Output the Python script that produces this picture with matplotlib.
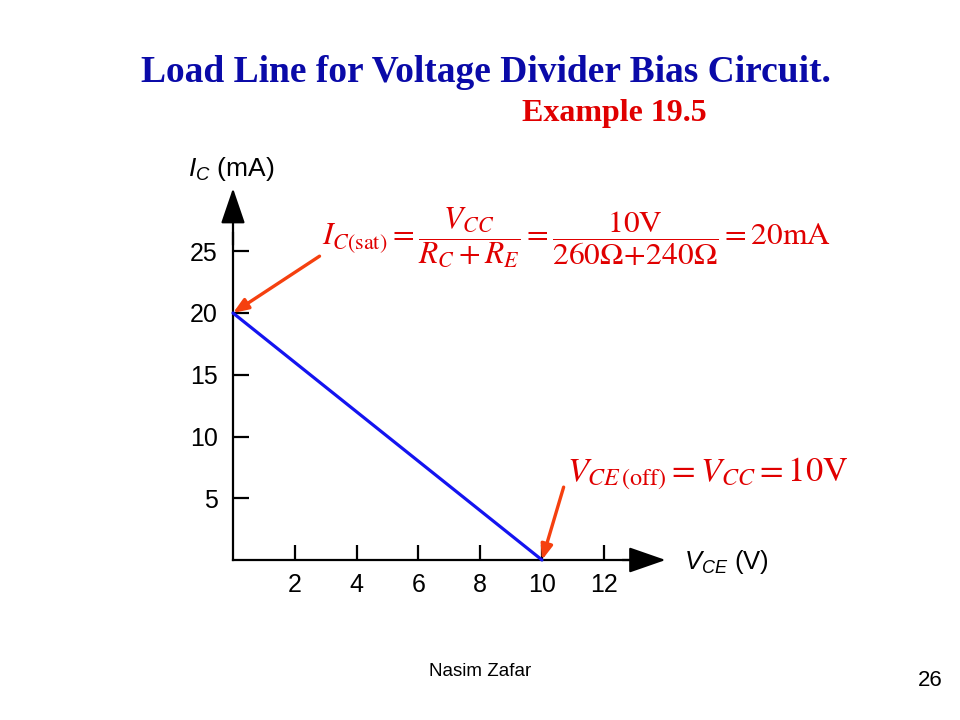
import matplotlib
matplotlib.use("Agg")
import matplotlib.pyplot as plt

plt.rcParams["font.family"] = ["Liberation Sans", "DejaVu Sans"]
plt.rcParams["mathtext.fontset"] = "custom"
plt.rcParams["mathtext.rm"] = "Liberation Sans"
plt.rcParams["mathtext.it"] = "Liberation Sans:italic"
plt.rcParams["mathtext.bf"] = "Liberation Sans:bold"

# ── Data ─────────────────────────────────────────────────────────────────────
vce = [0, 10]          # V
ic = [20, 0]           # mA
xticks = [2, 4, 6, 8, 10, 12]
yticks = [5, 10, 15, 20, 25]

BLUE = "#1414F0"
ORANGE = "#F5400F"
RED = "#E00000"
NAVY = "#0A0AA8"

fig = plt.figure(figsize=(9.6, 7.2), dpi=100)
fig.patch.set_facecolor("white")

W, H = 960, 720
ax = fig.add_axes([233 / W, 1 - 560 / H, 432.6 / W, 370.5 / H])
ax.set_xlim(0, 14)
ax.set_ylim(0, 30)
ax.set_facecolor("none")

for s in ("top", "right"):
    ax.spines[s].set_visible(False)
for s in ("left", "bottom"):
    ax.spines[s].set_linewidth(1.6)
ax.spines["left"].set_bounds(0, 26.5)
ax.spines["bottom"].set_bounds(0, 13.0)

ax.set_xticks(xticks)
ax.set_yticks(yticks)
ax.tick_params(axis="x", direction="in", length=11, width=1.6, pad=9, labelsize=18)
ax.tick_params(axis="y", direction="in", length=11.5, width=1.6, pad=11, labelsize=18)

# axis arrowheads
ax.annotate("", xy=(0, 30.1), xytext=(0, 25.5),
            arrowprops=dict(arrowstyle="-|>,head_length=2.2,head_width=0.75",
                            color="black", lw=1.6, shrinkA=0, shrinkB=0),
            annotation_clip=False)
ax.annotate("", xy=(14.0, 0), xytext=(12.6, 0),
            arrowprops=dict(arrowstyle="-|>,head_length=2.3,head_width=0.8",
                            color="black", lw=1.6, shrinkA=0, shrinkB=0),
            annotation_clip=False)

# axis labels
ax.text(-1.45, 31.7, r"$I_C$ (mA)", fontsize=19, ha="left", va="center")
ax.text(14.6, -0.2, r"$V_{CE}$ (V)", fontsize=18.5, ha="left", va="center")

# load line
ax.plot(vce, ic, color=BLUE, lw=2.3, solid_capstyle="round", clip_on=False, zorder=3)

# pointer arrows
ax.annotate("", xy=(vce[0], ic[0]), xytext=(2.8, 24.6),
            arrowprops=dict(arrowstyle="-|>,head_length=0.9,head_width=0.35",
                            color=ORANGE, lw=2.4, shrinkA=0, shrinkB=0),
            annotation_clip=False, zorder=4)
ax.annotate("", xy=(vce[1], ic[1]), xytext=(10.7, 5.9),
            arrowprops=dict(arrowstyle="-|>,head_length=0.9,head_width=0.35",
                            color=ORANGE, lw=2.4, shrinkA=0, shrinkB=0),
            annotation_clip=False, zorder=4)

# formulas
fig.text(322 / W, 1 - 238 / H,
         r"$I_{C(\mathrm{sat})} = \dfrac{V_{CC}}{R_C + R_E}"
         r" = \dfrac{10\mathrm{V}}{260\Omega\!+\!240\Omega} = 20\mathrm{mA}$",
         color=RED, fontsize=22.6, math_fontfamily="stix", ha="left", va="center")
fig.text(567 / W, 1 - 474 / H,
         r"$V_{CE\,(\mathrm{off})} = V_{CC} = 10\mathrm{V}$",
         color=RED, fontsize=24.7, math_fontfamily="stix", ha="left", va="center")

# titles
fig.text(486 / W, 1 - 73 / H, "Load Line for Voltage Divider Bias Circuit.",
         color=NAVY, fontsize=27, fontweight="bold", family="Liberation Serif",
         ha="center", va="center")
fig.text(614 / W, 1 - 114 / H, "Example 19.5",
         color=RED, fontsize=23, fontweight="bold", family="Liberation Serif",
         ha="center", va="center")

# footer
fig.text(480 / W, 1 - 672 / H, "Nasim Zafar", fontsize=13.5, ha="center", va="center")
fig.text(930 / W, 1 - 680 / H, "26", fontsize=16, ha="center", va="center")

fig.savefig("out.png", dpi=100, facecolor="white")
